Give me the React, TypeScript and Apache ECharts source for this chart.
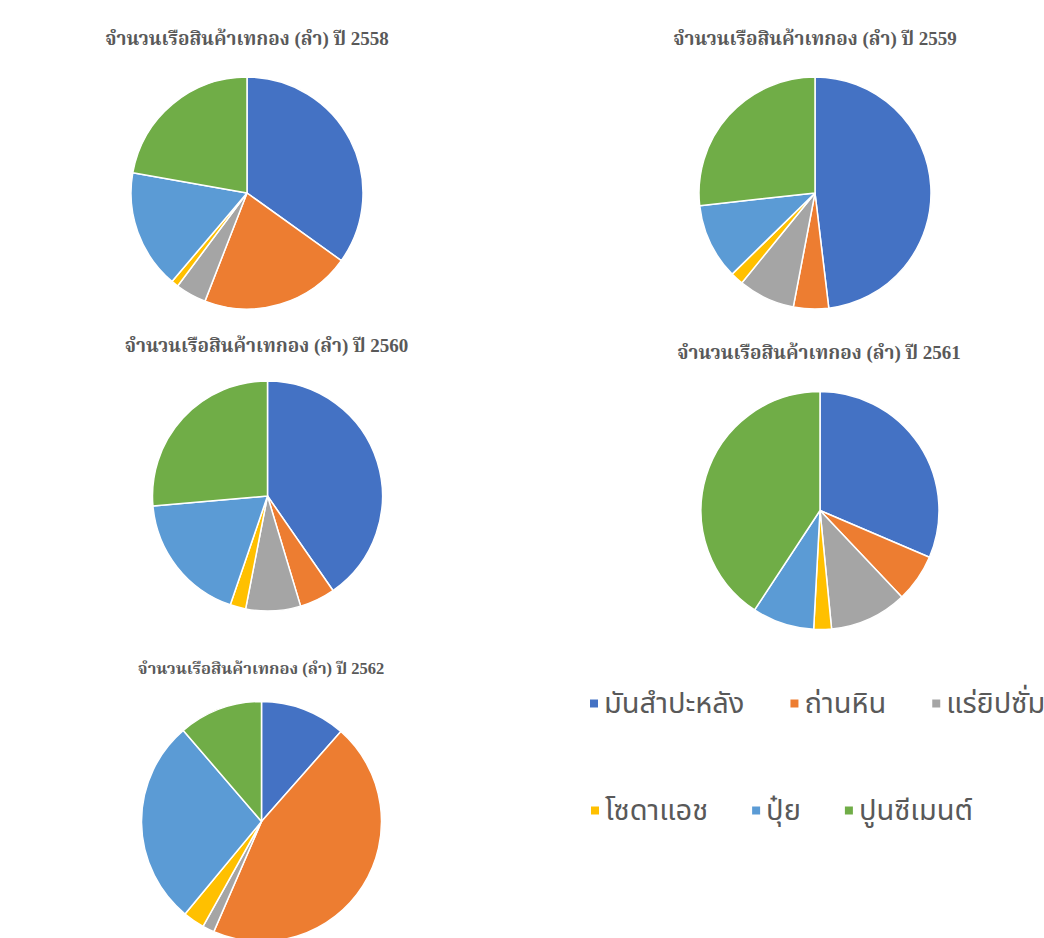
import React, { useEffect, useRef } from "react";
import * as echarts from "echarts";

const categories = ["มันสำปะหลัง", "ถ่านหิน", "แร่ยิปซั่ม", "โซดาแอช", "ปุ๋ย", "ปูนซีเมนต์"];
const colors = ["#4472C4", "#ED7D31", "#A5A5A5", "#FFC000", "#5B9BD5", "#70AD47"];

const years = ["2558", "2559", "2560", "2561", "2562"];
const values2558 = [349, 210, 43, 10, 166, 222];
const values2559 = [482, 49, 79, 18, 106, 268];
const values2560 = [404, 50, 77, 22, 184, 264];
const values2561 = [314, 65, 105, 24, 84, 407];
const values2562 = [115, 450, 16, 29, 277, 113];
const allValues = [values2558, values2559, values2560, values2561, values2562];

const layouts = [
  { cx: 247, cy: 193, r: 116, tx: 247, ty: 38, fs: 19 },
  { cx: 815, cy: 193, r: 116, tx: 815, ty: 38, fs: 19 },
  { cx: 267.5, cy: 496, r: 115, tx: 266.5, ty: 345, fs: 19 },
  { cx: 820, cy: 510.5, r: 119, tx: 819, ty: 352, fs: 19 },
  { cx: 261.5, cy: 821.5, r: 120, tx: 261, ty: 668, fs: 16.5 },
];

export default function App() {
  const ref = useRef<HTMLDivElement>(null);
  useEffect(() => {
    if (!ref.current) return;
    const chart = echarts.init(ref.current, null, { renderer: "svg" });
    const series = allValues.map((vals, i) => ({
      type: "pie",
      name: years[i],
      center: [layouts[i].cx, layouts[i].cy],
      radius: [0, layouts[i].r],
      startAngle: 90,
      clockwise: true,
      label: { show: false },
      labelLine: { show: false },
      emphasis: { disabled: true },
      itemStyle: { borderColor: "#ffffff", borderWidth: 1.5 },
      data: vals.map((v, j) => ({ name: categories[j], value: v, itemStyle: { color: colors[j] } })),
    }));
    const titles = years.map((y, i) => ({
      type: "text",
      x: layouts[i].tx,
      y: layouts[i].ty,
      style: {
        text: `จำนวนเรือสินค้าเทกอง (ลำ) ปี ${y}`,
        textAlign: "center",
        textVerticalAlign: "middle",
        fill: "#595959",
        font: `bold ${layouts[i].fs}px "Liberation Serif", "Noto Serif Thai", "Noto Sans Thai", serif`,
      },
    }));
    const legendCommon = {
      orient: "horizontal",
      icon: "rect",
      itemWidth: 10,
      itemHeight: 10,
      width: 700,
      selectedMode: false,
      textStyle: { color: "#595959", fontSize: 29, fontFamily: '"Noto Sans Thai", "DejaVu Sans", sans-serif', padding: [0, 0, 0, 0] },
    };
    chart.setOption({
      animation: false,
      backgroundColor: "#ffffff",
      color: colors,
      legend: [
        { ...legendCommon, itemGap: 44, left: 583, top: 684, data: categories.slice(0, 3) },
        { ...legendCommon, itemGap: 42, left: 584, top: 791, data: categories.slice(3) },
      ],
      series,
      graphic: titles,
    });
    return () => chart.dispose();
  }, []);
  return <div ref={ref} style={{ position: "fixed", left: 0, top: 0, width: 1044, height: 938 }} />;
}
